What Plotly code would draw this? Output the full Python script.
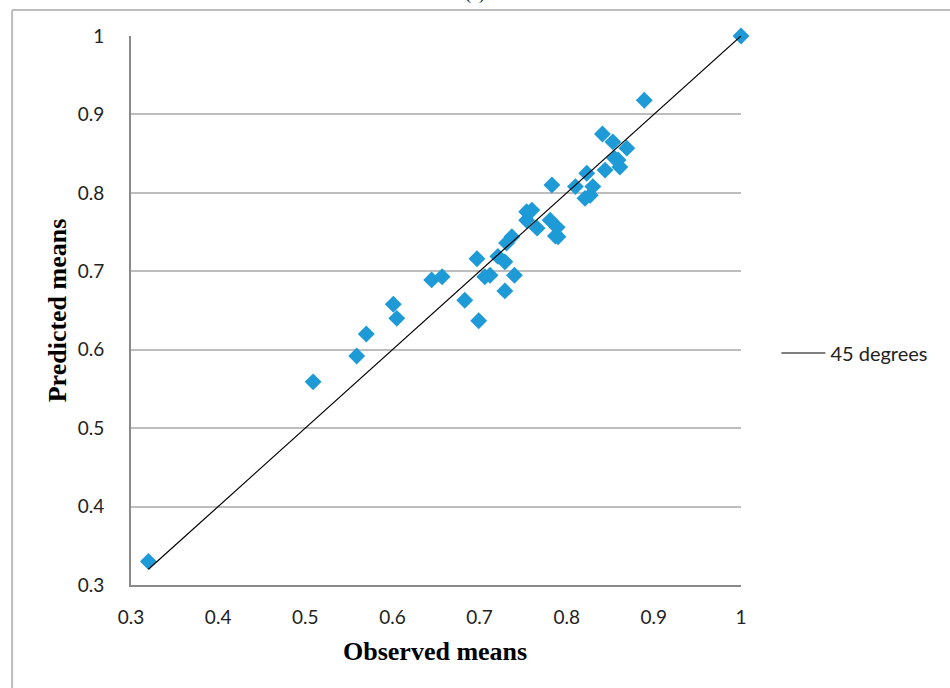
import plotly.graph_objects as go

# Observed vs predicted means
observed = [0.320, 0.509, 0.559, 0.570, 0.601, 0.605, 0.645, 0.657, 0.683, 0.697,
            0.699, 0.706, 0.712, 0.721, 0.729, 0.729, 0.731, 0.737, 0.740, 0.754,
            0.754, 0.760, 0.766, 0.781, 0.783, 0.787, 0.789, 0.790, 0.810, 0.821,
            0.823, 0.827, 0.830, 0.841, 0.844, 0.853, 0.855, 0.859, 0.861, 0.869,
            0.889, 1.000]
predicted = [0.330, 0.559, 0.592, 0.620, 0.658, 0.640, 0.689, 0.693, 0.663, 0.716,
             0.637, 0.693, 0.695, 0.719, 0.712, 0.675, 0.736, 0.744, 0.695, 0.776,
             0.765, 0.778, 0.755, 0.765, 0.810, 0.745, 0.756, 0.744, 0.808, 0.793,
             0.825, 0.797, 0.808, 0.875, 0.829, 0.865, 0.844, 0.842, 0.833, 0.857,
             0.918, 1.000]

# Reference line y = x
diag_x = [0.32, 1.0]
diag_y = [0.32, 1.0]

tick_vals = [0.3, 0.4, 0.5, 0.6, 0.7, 0.8, 0.9, 1.0]
tick_text = ["0.3", "0.4", "0.5", "0.6", "0.7", "0.8", "0.9", "1"]

fig = go.Figure()
fig.add_trace(go.Scatter(
    x=observed, y=predicted, mode="markers", showlegend=False, cliponaxis=False,
    marker=dict(symbol="diamond", size=13, color="#1E9BD7", line=dict(width=0)),
))
fig.add_trace(go.Scatter(
    x=diag_x, y=diag_y, mode="lines", name="45 degrees", cliponaxis=False,
    line=dict(color="black", width=1.2),
))

sans = "Lato, Open Sans, sans-serif"
serif = "Liberation Serif, serif"
tick_font = dict(family=sans, size=19, color="#222222")
title_font = dict(family=serif, size=26, color="black", weight="bold")

fig.update_layout(
    width=950, height=688,
    margin=dict(l=131, r=209, t=36, b=103),
    paper_bgcolor="white", plot_bgcolor="white",
    showlegend=True,
    legend=dict(x=1.058, y=0.4226, xanchor="left", yanchor="middle",
                itemwidth=44,
                font=dict(family=sans, size=20, color="#222222"),
                bgcolor="rgba(0,0,0,0)"),
    xaxis=dict(range=[0.3, 1.0], tickvals=tick_vals, ticktext=tick_text,
               showgrid=False, zeroline=False, showline=True,
               linecolor="#8a8a8a", linewidth=2, ticks="", ticklabelstandoff=14,
               tickfont=tick_font),
    yaxis=dict(range=[0.3, 1.0], tickvals=tick_vals, ticktext=tick_text,
               showgrid=True, gridcolor="#bdbdbd", gridwidth=1.5,
               zeroline=False, showline=True,
               linecolor="#8a8a8a", linewidth=2, ticks="", ticklabelstandoff=21,
               tickfont=tick_font),
    annotations=[
        dict(text="Observed means", x=0.498, y=-0.122, xref="paper", yref="paper",
             xanchor="center", yanchor="middle", showarrow=False, font=title_font),
        dict(text="Predicted means", x=-0.12, y=0.5, xref="paper", yref="paper",
             xanchor="center", yanchor="middle", showarrow=False, textangle=-90,
             font=title_font),
        dict(text="(a)", x=0.564, y=1.054, xref="paper", yref="paper",
             xanchor="center", yanchor="bottom", showarrow=False,
             font=dict(family=serif, size=18, color="black")),
    ],
    shapes=[
        # outer chart frame (top and left edges)
        dict(type="line", xref="paper", yref="paper", x0=-0.195, x1=1.35,
             y0=1.0474, y1=1.0474, line=dict(color="#bdbdbd", width=2)),
        dict(type="line", xref="paper", yref="paper", x0=-0.195, x1=-0.195,
             y0=1.0474, y1=-0.2, line=dict(color="#bdbdbd", width=2)),
    ],
)

fig.write_html("out.html")
